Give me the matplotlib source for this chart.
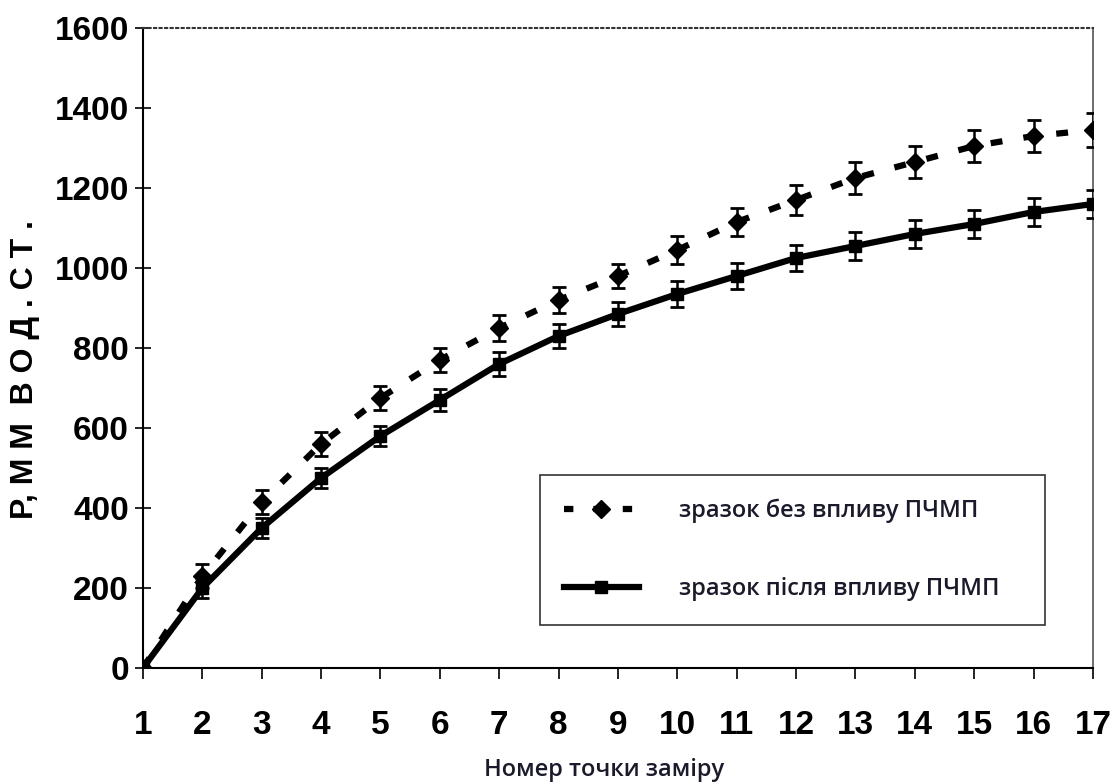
import matplotlib
matplotlib.use("Agg")
import matplotlib.pyplot as plt
from matplotlib.lines import Line2D

points = list(range(1, 18))
p_before = [0, 230, 415, 560, 675, 770, 850, 920, 980, 1045, 1115, 1170, 1225, 1265, 1305, 1330, 1345]
err_before = [0, 30, 30, 30, 30, 30, 32, 32, 30, 34, 36, 38, 40, 40, 40, 40, 42]
p_after = [0, 200, 350, 475, 580, 670, 760, 830, 885, 935, 980, 1025, 1055, 1085, 1110, 1140, 1160]
err_after = [0, 25, 25, 25, 25, 28, 30, 30, 30, 32, 32, 32, 34, 34, 34, 36, 36]
y_ticks = [0, 200, 400, 600, 800, 1000, 1200, 1400, 1600]

tick_font = ['Liberation Sans', 'DejaVu Sans']
text_font = ['Open Sans', 'DejaVu Sans']

fig = plt.figure(figsize=(11.11, 7.84), dpi=100)
ax = fig.add_axes([0.1287, 0.148, 0.8551, 0.8163])

dash_style = (0, (1.9, 3.4))
ax.errorbar(points, p_before, yerr=err_before, color='black', lw=4.5,
            ls=dash_style, marker='D', ms=9, capsize=5, capthick=2,
            elinewidth=1.8, zorder=3)
ax.errorbar(points, p_after, yerr=err_after, color='black', lw=4.5,
            ls='-', marker='s', ms=9, capsize=5, capthick=2,
            elinewidth=1.8, zorder=3)

ax.set_xlim(1, 17)
ax.set_ylim(0, 1600)
ax.set_xticks(points)
ax.set_yticks(y_ticks)
for lab in ax.get_yticklabels():
    lab.set_family(tick_font)
    lab.set_fontweight('bold')
    lab.set_fontsize(24)
for lab in ax.get_xticklabels():
    lab.set_family(tick_font)
    lab.set_fontweight('bold')
    lab.set_fontsize(24)
ax.tick_params(axis='y', direction='inout', length=12, width=1.2, pad=4)
ax.tick_params(axis='x', direction='out', length=8, width=1.2, pad=22)

ax.spines['top'].set_linestyle(':')
ax.spines['top'].set_color('#333333')
ax.spines['top'].set_linewidth(1.5)
ax.spines['right'].set_color('#555555')
ax.spines['right'].set_linewidth(1.2)
ax.spines['left'].set_linewidth(1.5)
ax.spines['bottom'].set_linewidth(1.5)

ax.set_xlabel('Номер точки заміру', family=text_font, fontsize=17,
              fontweight='semibold', color='#1a1a2a')
ax.xaxis.set_label_coords(0.485, -0.14)
ax.set_ylabel('Р, М М  В О Д . С Т .', family=tick_font,
              fontsize=23, fontweight='bold')
ax.yaxis.set_label_coords(-0.108, 0.466)

handles = [
    Line2D([], [], color='black', lw=4.5, ls=(0, (1.5, 3.2)), marker='D', ms=9),
    Line2D([], [], color='black', lw=4.5, ls='-', marker='s', ms=9),
]
labels = ['зразок без впливу ПЧМП', 'зразок після впливу ПЧМП']
leg = ax.legend(handles, labels, loc='lower left',
                bbox_to_anchor=(0.418, 0.067, 0.531, 0.255), mode='expand',
                frameon=True, fancybox=False, edgecolor='black', handlelength=3.2,
                labelspacing=2.3, borderpad=1.0, borderaxespad=0, handletextpad=1.7,
                prop={'family': text_font, 'size': 17, 'weight': 'semibold'})
leg.get_frame().set_linewidth(1.2)
for t in leg.get_texts():
    t.set_color('#1a1a2a')

fig.savefig('out.png', dpi=100)
